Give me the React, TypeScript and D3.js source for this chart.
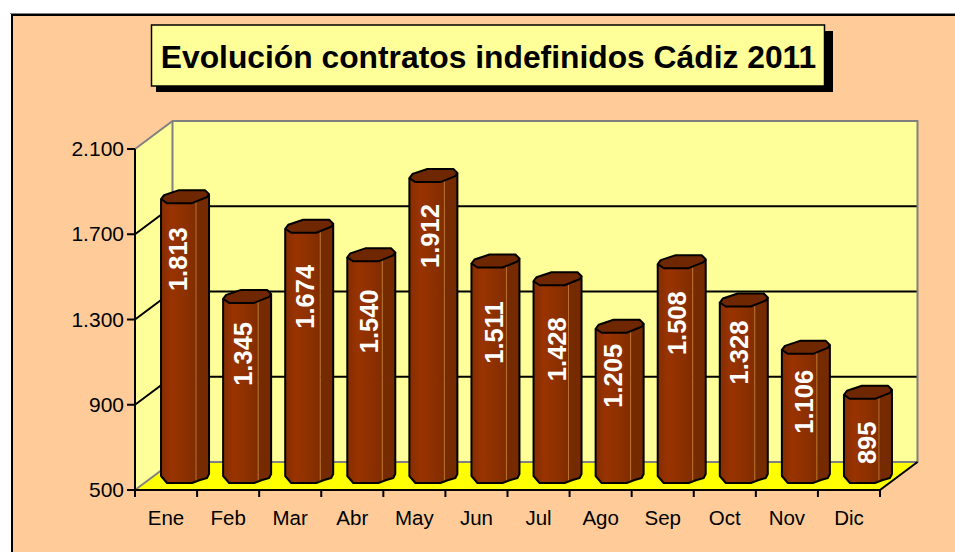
import React from 'react';
import * as d3 from 'd3';

const months = ['Ene', 'Feb', 'Mar', 'Abr', 'May', 'Jun', 'Jul', 'Ago', 'Sep', 'Oct', 'Nov', 'Dic'];
const contracts = [1813, 1345, 1674, 1540, 1912, 1511, 1428, 1205, 1508, 1328, 1106, 895];
const valueLabels = ['1.813', '1.345', '1.674', '1.540', '1.912', '1.511', '1.428', '1.205', '1.508', '1.328', '1.106', '895'];
const yTicks = [500, 900, 1300, 1700, 2100];
const yTickLabels = ['500', '900', '1.300', '1.700', '2.100'];
const title = 'Evolución contratos indefinidos Cádiz 2011';

// hand placed labels: the original does not centre them the same way on each bar
const labelNudgeX = [-7, -4, -4, -2, -3, -1, -1, -7, -5, -5, -2, -1];
const labelNudgeY = [61, 56, 69, 65, 59, 70, 69, 48, 60, 51, 53, 49];

const font = '"Liberation Sans", Arial, sans-serif';
const left = 135;
const right = 880;
const top = 149;
const bottom = 490;
// 3d offset of the back wall
const depthX = 37.5;
const depthY = -28;
// bars stand about half way into the floor
const barDX = 19;
const barDY = -12;
const edgeX = 11;

// octagon outline of a bar, relative to its centre
const rimShape: [number, number][] = [[-24, 1], [-18, 5], [7, 5], [22, -1], [24, -4], [20, -8], [-6, -8], [-21, -3]];
const baseShape: [number, number][] = [[-18, 5], [7, 5], [15, 2], [22, 0], [24, -4]];

const App = () => {
  const x = d3.scaleBand<string>().domain(months).range([left, right]);
  const y = d3.scaleLinear().domain([500, 2100]).range([bottom, top]);
  const line = d3.line();
  const closed = (pts: [number, number][]) => line(pts) + 'Z';
  const bandW = x.bandwidth();

  return (
    <svg width={955} height={552} style={{ position: 'absolute', left: 0, top: 0, display: 'block' }}>
      <defs>
        <linearGradient id="barFront" x1="0" x2="1" y1="0" y2="0">
          <stop offset="0" stopColor="#852d00" />
          <stop offset="0.3" stopColor="#993300" />
          <stop offset="0.7" stopColor="#8c3000" />
          <stop offset="1" stopColor="#802c00" />
        </linearGradient>
      </defs>
      <rect x={12} y={15} width={960} height={560} fill="#ffcc99" stroke="#000" strokeWidth={2} />
      <line x1={10} x2={955} y1={13.5} y2={13.5} stroke="#808080" />

      <rect x={156} y={31} width={677} height={61} fill="#000" />
      <rect x={151.5} y={25} width={673} height={61} fill="#ffff99" stroke="#000" strokeWidth={1.5} />
      <text x={488.5} y={68} textAnchor="middle" fontFamily={font} fontWeight="bold" fontSize={31.8} fill="#000">{title}</text>

      {/* walls and floor */}
      <path d={closed([[left, y(2100)], [left + depthX, y(2100) + depthY], [left + depthX, bottom + depthY], [left, bottom]])} fill="#ffff99" />
      <rect x={left + depthX} y={y(2100) + depthY} width={right - left} height={bottom - y(2100)} fill="#ffff99" />
      <path d={closed([[left, bottom], [left + depthX, bottom + depthY], [right + depthX, bottom + depthY], [right, bottom]])} fill="#ffff00" />

      {yTicks.slice(1, -1).map((t) => (
        <path
          key={t}
          d={line([[left, y(t)], [left + depthX, y(t) + depthY], [right + depthX, y(t) + depthY]]) ?? ''}
          fill="none"
          stroke="#000"
          strokeWidth={2}
        />
      ))}
      <path
        d={line([[left, y(2100)], [left + depthX, y(2100) + depthY], [right + depthX, y(2100) + depthY], [right + depthX, bottom + depthY], [left + depthX, bottom + depthY]]) ?? ''}
        fill="none"
        stroke="#808080"
        strokeWidth={2}
      />
      <line x1={left + depthX} x2={left + depthX} y1={y(2100) + depthY} y2={bottom + depthY} stroke="#808080" strokeWidth={2} />
      <line x1={left} x2={left + depthX} y1={bottom} y2={bottom + depthY} stroke="#808080" strokeWidth={2} />
      <line x1={right} x2={right + depthX} y1={bottom} y2={bottom + depthY} stroke="#000" strokeWidth={2} />

      {/* axes */}
      <line x1={left} x2={left} y1={top} y2={bottom + 7} stroke="#000" strokeWidth={2} />
      <line x1={left - 8} x2={right} y1={bottom} y2={bottom} stroke="#000" strokeWidth={2} />
      {yTicks.map((t, i) => (
        <g key={t}>
          <line x1={left - 8} x2={left} y1={y(t)} y2={y(t)} stroke="#000" strokeWidth={2} />
          <text x={left - 11} y={y(t) + 7} textAnchor="end" fontFamily={font} fontSize={21} fill="#000">{yTickLabels[i]}</text>
        </g>
      ))}
      {months.map((m) => (
        <g key={m}>
          <line x1={(x(m) ?? 0) + bandW} x2={(x(m) ?? 0) + bandW} y1={bottom} y2={bottom + 7} stroke="#000" strokeWidth={2} />
          <text x={(x(m) ?? 0) + bandW / 2} y={525} textAnchor="middle" fontFamily={font} fontSize={20.5} fill="#000">{m}</text>
        </g>
      ))}

      {/* bars */}
      {months.map((m, i) => {
        const cx = (x(m) ?? 0) + bandW / 2 + barDX;
        const cyTop = y(contracts[i]) + barDY;
        const cyBase = bottom + barDY;
        const rim = rimShape.map(([dx, dy]): [number, number] => [cx + dx, cyTop + dy]);
        const base = baseShape.map(([dx, dy]): [number, number] => [cx + dx, cyBase + dy]);
        const leftEdgeTop = rim[0];
        const leftEdgeBase: [number, number] = [cx - 24, cyBase - 2];
        const rightEdgeTop = rim[4];
        const frontTop: [number, number] = [cx + edgeX, cyTop + 4];
        const frontBase: [number, number] = [cx + edgeX, cyBase + 3];
        return (
          <g key={m}>
            <path d={closed([leftEdgeTop, rim[1], rim[2], frontTop, frontBase, base[1], base[0], leftEdgeBase])} fill="url(#barFront)" />
            <path d={closed([frontTop, rim[3], rightEdgeTop, base[4], base[3], base[2], frontBase])} fill="#752a00" />
            <line x1={cx + edgeX} x2={cx + edgeX} y1={cyTop + 4} y2={cyBase + 3} stroke="#b8702c" strokeWidth={1} />
            <path d={closed(rim)} fill="#6e2700" stroke="#000" strokeWidth={2} strokeLinejoin="round" />
            <path
              d={line([leftEdgeTop, leftEdgeBase, ...base, rightEdgeTop]) ?? ''}
              fill="none"
              stroke="#000"
              strokeWidth={2}
              strokeLinejoin="round"
            />
            <text
              transform={`translate(${cx + labelNudgeX[i] + 9},${cyTop + labelNudgeY[i]}) rotate(-90)`}
              textAnchor="middle"
              fontFamily={font}
              fontWeight="bold"
              fontSize={25.5}
              fill="#fff"
            >
              {valueLabels[i]}
            </text>
          </g>
        );
      })}
    </svg>
  );
};

export default App;
